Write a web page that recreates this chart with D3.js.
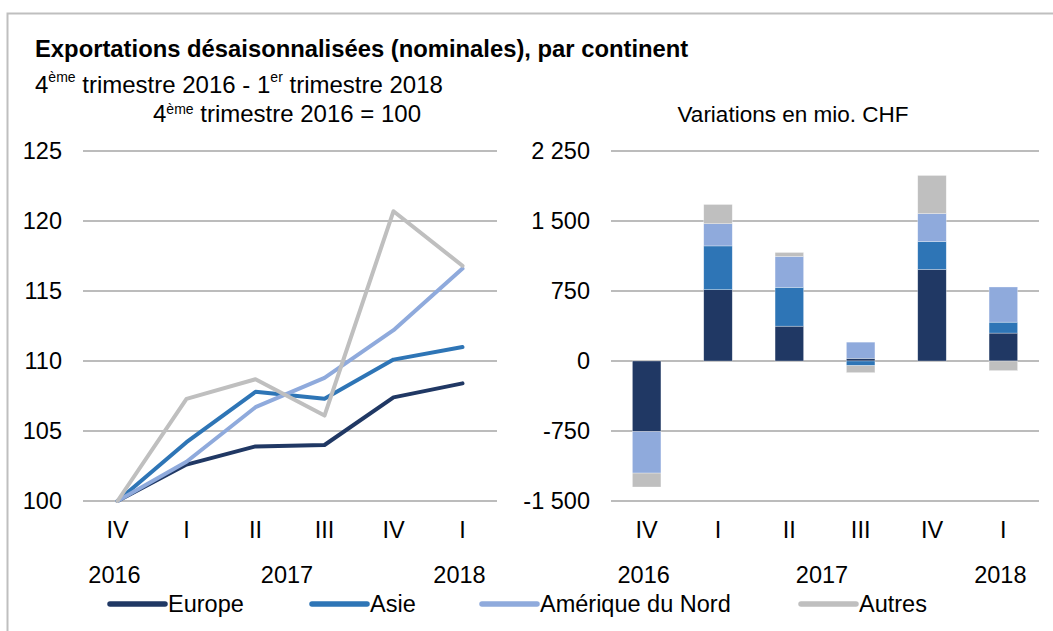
<!DOCTYPE html>
<html>
<head>
<meta charset="utf-8">
<script src="https://cdn.jsdelivr.net/npm/d3@7"></script>
<style>
  html, body { margin: 0; padding: 0; background: #fff; }
  svg { display: block; font-family: "Liberation Sans", Arial, sans-serif; }
  text { fill: #000; }
</style>
</head>
<body>
<div id="chart"></div>
<script>
// data ////////////////////////////////////////////////////////////
const quarters = ["IV", "I", "II", "III", "IV", "I"];
const years = [
  { label: "2016", from: 0, to: 0 },
  { label: "2017", from: 1, to: 4 },
  { label: "2018", from: 5, to: 5 }
];
const seriesNames = ["Europe", "Asie", "Amérique du Nord", "Autres"];
const colors = ["#203864", "#2e75b6", "#8faadc", "#bfbfbf"];

// index, 4th quarter 2016 = 100
const europeIdx = [100, 102.6, 103.9, 104.0, 107.4, 108.4];
const asieIdx   = [100, 104.2, 107.8, 107.3, 110.1, 111.0];
const amnordIdx = [100, 102.8, 106.7, 108.8, 112.2, 116.6];
const autresIdx = [100, 107.3, 108.7, 106.1, 120.7, 116.8];

// variations in mio. CHF
const europeVar = [-757, 764, 373, 28, 981, 299];
const asieVar   = [0, 469, 416, -50, 299, 117];
const amnordVar = [-444, 238, 331, 174, 299, 377];
const autresVar = [-149, 206, 43, -75, 409, -103];

const leftTicks = [100, 105, 110, 115, 120, 125];
const rightTicks = [-1500, -750, 0, 750, 1500, 2250];

// setup ////////////////////////////////////////////////////////////
const width = 1053, height = 631;
const fs = 23.5;

const svg = d3.select("#chart").append("svg")
  .attr("width", width)
  .attr("height", height);

// frame (top + left only)
svg.append("path")
  .attr("d", `M7.5,${height} V13.5 H${width}`)
  .attr("fill", "none")
  .attr("stroke", "#bfbfbf")
  .attr("stroke-width", 2);

const locale = d3.formatLocale({ decimal: ",", thousands: " ", grouping: [3], currency: ["", ""], minus: "-" });
const fmt = locale.format(",");

// titles
svg.append("text")
  .attr("x", 35).attr("y", 57)
  .attr("font-size", 23.8).attr("font-weight", "bold")
  .text("Exportations désaisonnalisées (nominales), par continent");

const sub = svg.append("text").attr("x", 35).attr("y", 93).attr("font-size", 24);
sub.append("tspan").text("4");
sub.append("tspan").attr("font-size", 14).attr("dy", -11).text("ème");
sub.append("tspan").attr("dy", 11).text(" trimestre 2016 - 1");
sub.append("tspan").attr("font-size", 14).attr("dy", -11).text("er");
sub.append("tspan").attr("dy", 11).text(" trimestre 2018");

const sub2 = svg.append("text").attr("x", 153).attr("y", 122).attr("font-size", 24);
sub2.append("tspan").text("4");
sub2.append("tspan").attr("font-size", 14).attr("dy", -8).text("ème");
sub2.append("tspan").attr("dy", 8).text(" trimestre 2016 = 100");

svg.append("text")
  .attr("x", 793).attr("y", 122)
  .attr("font-size", 22.5).attr("text-anchor", "middle")
  .text("Variations en mio. CHF");

// common helpers
function drawGrid(g, y, ticks, x0, x1, format) {
  g.selectAll("line.grid")
    .data(ticks)
    .join("line")
    .attr("class", "grid")
    .attr("x1", x0).attr("x2", x1)
    .attr("y1", d => y(d)).attr("y2", d => y(d))
    .attr("stroke", "#a6a6a6")
    .attr("stroke-width", 1.4);

  g.selectAll("text.ytick")
    .data(ticks)
    .join("text")
    .attr("class", "ytick")
    .attr("x", x0 - 21)
    .attr("y", d => y(d))
    .attr("dy", "0.36em")
    .attr("text-anchor", "end")
    .attr("font-size", fs)
    .text(format);
}

function drawCategories(g, xCenter) {
  g.selectAll("text.xtick")
    .data(quarters)
    .join("text")
    .attr("class", "xtick")
    .attr("x", (d, i) => xCenter(i))
    .attr("y", 537.5)
    .attr("text-anchor", "middle")
    .attr("font-size", fs)
    .text(d => d);

  g.selectAll("text.year")
    .data(years)
    .join("text")
    .attr("class", "year")
    .attr("x", d => (xCenter(d.from) + xCenter(d.to)) / 2 - 3)
    .attr("y", 582.5)
    .attr("text-anchor", "middle")
    .attr("font-size", fs)
    .text(d => d.label);
}

// left chart: index lines ///////////////////////////////////////////
const idx = d3.range(quarters.length);
const xL = d3.scalePoint().domain(idx).range([83, 497]).padding(0.5);
const yL = d3.scaleLinear().domain([100, 125]).range([501, 151]);

const left = svg.append("g");
drawGrid(left, yL, leftTicks, 83, 497, d => d);
drawCategories(left, i => xL(i));

const lineSeries = [europeIdx, asieIdx, amnordIdx, autresIdx];
const line = d3.line()
  .x((d, i) => xL(i))
  .y(d => yL(d));

left.selectAll("path.series")
  .data(lineSeries)
  .join("path")
  .attr("class", "series")
  .attr("d", line)
  .attr("fill", "none")
  .attr("stroke", (d, i) => colors[i])
  .attr("stroke-width", 4)
  .attr("stroke-linejoin", "round")
  .attr("stroke-linecap", "round");

// right chart: stacked bars //////////////////////////////////////////
const xR = d3.scaleBand().domain(idx).range([611, 1039]).paddingInner(0.6).paddingOuter(0.3);
const yR = d3.scaleLinear().domain([-1500, 2250]).range([501, 151]);

const right = svg.append("g");
drawGrid(right, yR, rightTicks, 611, 1039, fmt);
drawCategories(right, i => xR(i) + xR.bandwidth() / 2);

const varSeries = [europeVar, asieVar, amnordVar, autresVar];
const rows = idx.map(i => {
  const r = { i };
  seriesNames.forEach((n, k) => (r[n] = varSeries[k][i]));
  return r;
});

const stacked = d3.stack()
  .keys(seriesNames)
  .offset(d3.stackOffsetDiverging)(rows);

right.selectAll("g.layer")
  .data(stacked)
  .join("g")
  .attr("class", "layer")
  .attr("fill", (d, k) => colors[k])
  .selectAll("rect")
  .data(d => d)
  .join("rect")
  .attr("x", d => xR(d.data.i))
  .attr("width", xR.bandwidth())
  .attr("y", d => yR(Math.max(d[0], d[1])))
  .attr("height", d => Math.abs(yR(d[0]) - yR(d[1])))
  .attr("stroke", "rgba(255,255,255,0.5)")
  .attr("stroke-width", 0.6);

// legend /////////////////////////////////////////////////////////////
const legendX = [110, 312, 482, 801];
const legend = svg.append("g");
seriesNames.forEach((n, k) => {
  legend.append("line")
    .attr("x1", legendX[k]).attr("x2", legendX[k] + 55)
    .attr("y1", 604).attr("y2", 604)
    .attr("stroke", colors[k])
    .attr("stroke-width", 5.5)
    .attr("stroke-linecap", "round");
  legend.append("text")
    .attr("x", legendX[k] + 58).attr("y", 612)
    .attr("font-size", fs)
    .text(n);
});
</script>
</body>
</html>
